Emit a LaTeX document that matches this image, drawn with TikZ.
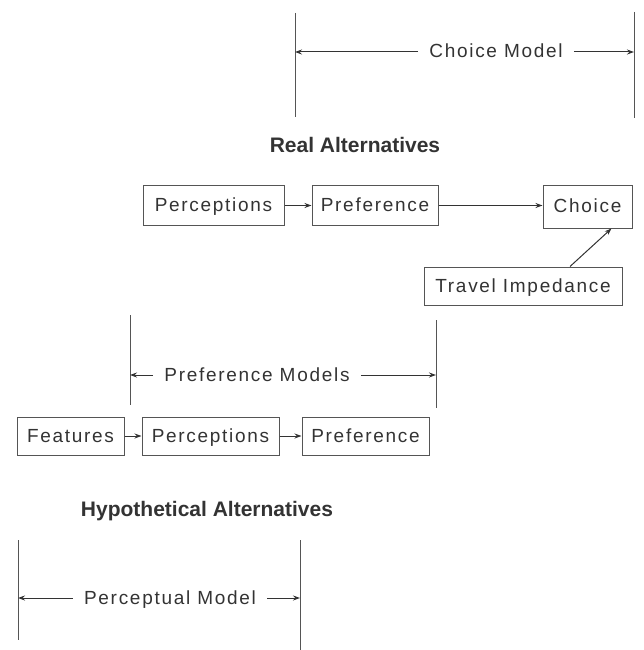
\documentclass[tikz,border=0pt]{standalone}
\usepackage{fontspec}
\setmainfont{Liberation Sans}[LetterSpace=9]
\newfontfamily\headfont{Liberation Sans}
\usetikzlibrary{arrows.meta}
\definecolor{ink}{HTML}{333333}
\definecolor{rule}{HTML}{555555}

\begin{document}
\begin{tikzpicture}[x=1pt,y=-1pt,
    box/.style={draw=rule,line width=1pt,minimum height=40pt,inner sep=0pt,
      text height=13pt,text depth=1pt,text=ink,font=\fontsize{19}{22}\selectfont},
    dimlabel/.style={text=ink,font=\fontsize{19}{22}\selectfont,inner xsep=11pt,inner ysep=0pt,
      text height=13pt,text depth=1pt},
    heading/.style={text=ink,font=\headfont\bfseries\fontsize{21}{24}\selectfont},
    arr/.style={draw=ink,line width=1pt,-{Stealth[length=7pt,width=5pt]}},
    bar/.style={draw=rule,line width=1pt}]
  \useasboundingbox (0,0) rectangle (644,650);

  % Choice model span
  \coordinate (cmL) at (295,52);
  \coordinate (cmR) at (634,52);
  \draw[bar] (295,13) -- (295,117);
  \draw[bar] (634,12) -- (634,118);
  \node[dimlabel] (cm) at (496,52) {Choice Model};
  \draw[arr] (cm.west) -- (cmL);
  \draw[arr] (cm.east) -- (cmR);

  % Real alternatives
  \node[heading] (real) at (355,145) {Real Alternatives};
  \node[box,minimum width=141pt] (rperc) at (213.5,205.5) {Perceptions};
  \node[box,minimum width=126pt] (rpref) at (375,205.5) {Preference};
  \node[box,minimum width=89pt,minimum height=43pt] (ch) at (587.5,206.5) {Choice};
  \node[box,minimum width=198pt,minimum height=38pt] (ti) at (523,286) {Travel Impedance};
  \draw[arr] (rperc) -- (rpref);
  \draw[arr] (rpref) -- (rpref -| ch.west);
  \draw[arr] ([xshift=47pt]ti.north) -- ([xshift=24pt]ch.south);

  % Preference models span
  \coordinate (pmL) at (130,375);
  \coordinate (pmR) at (436,375);
  \draw[bar] (130,315) -- (130,405);
  \draw[bar] (436,320) -- (436,408);
  \node[dimlabel] (pm) at (257,375) {Preference Models};
  \draw[arr] (pm.west) -- (pmL);
  \draw[arr] (pm.east) -- (pmR);

  % Hypothetical chain
  \node[box,minimum width=107pt,minimum height=38pt] (feat) at (70.5,436) {Features};
  \node[box,minimum width=137pt,minimum height=38pt] (hperc) at (210.5,436) {Perceptions};
  \node[box,minimum width=127pt,minimum height=38pt] (hpref) at (365.5,436) {Preference};
  \draw[arr] (feat) -- (hperc);
  \draw[arr] (hperc) -- (hpref);

  % Hypothetical alternatives
  \node[heading] (hyp) at (207,511) {Hypothetical Alternatives};

  % Perceptual model span
  \coordinate (mdL) at (18,598);
  \coordinate (mdR) at (300,598);
  \draw[bar] (18,540) -- (18,640);
  \draw[bar] (300,540) -- (300,650);
  \node[dimlabel] (md) at (170,598) {Perceptual Model};
  \draw[arr] (md.west) -- (mdL);
  \draw[arr] (md.east) -- (mdR);
\end{tikzpicture}
\end{document}
